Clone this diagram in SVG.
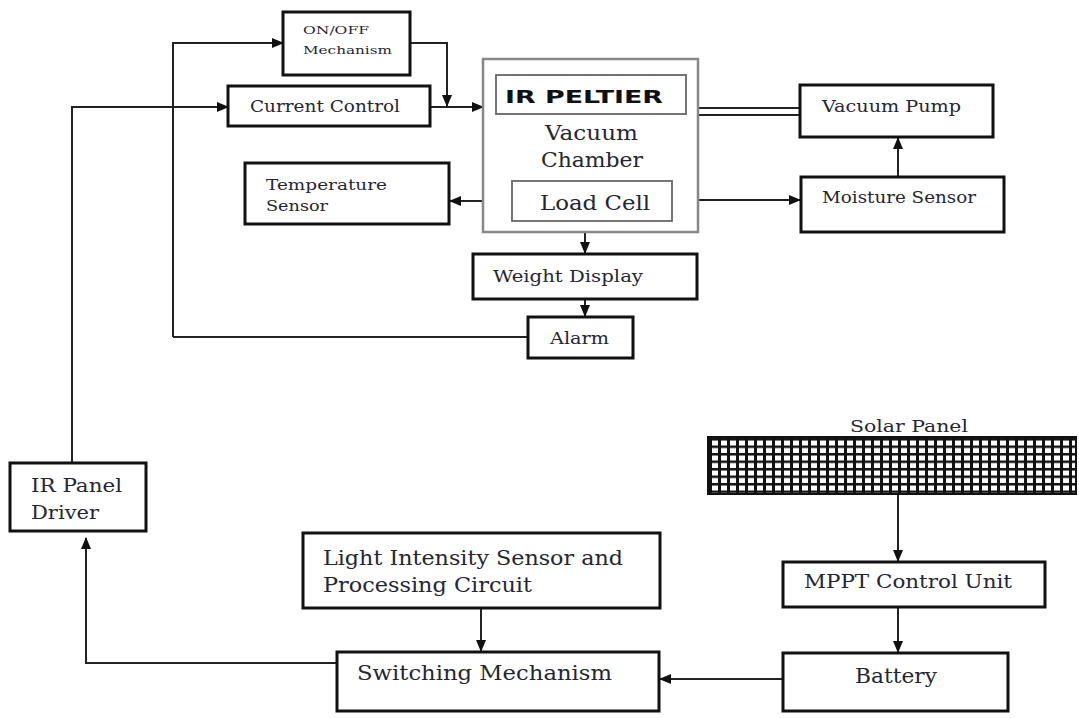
<svg xmlns="http://www.w3.org/2000/svg" width="1079" height="718" viewBox="0 0 1079 718">
<style>
.box{fill:#fff;stroke:#111;stroke-width:3}
.inner{fill:#fff;stroke:#666;stroke-width:1.8}
.t{font-family:"DejaVu Serif","Liberation Serif",serif;fill:#262633}
.b{font-family:"DejaVu Sans","Liberation Sans",sans-serif;font-weight:bold;fill:#111}
.ln{fill:none;stroke:#222;stroke-width:2}
.ar{fill:none;stroke:#222;stroke-width:2;marker-end:url(#ah)}
</style>
<defs>
<marker id="ah" markerUnits="userSpaceOnUse" markerWidth="12" markerHeight="10" refX="11" refY="5" orient="auto">
<path d="M0,0 L12,5 L0,10 Z" fill="#111"/>
</marker>
<pattern id="grid" patternUnits="userSpaceOnUse" x="710" y="439" width="9" height="7.5">
<rect width="9" height="7.5" fill="#111"/>
<rect x="2" y="1.5" width="6" height="5" fill="#fff"/>
</pattern>
</defs>

<g id="connectors">
<polyline class="ar" points="173,337 173,43 283,43"/>
<polyline class="ln" points="173,337 528,337"/>
<polyline class="ar" points="72,463 72,107 228,107"/>
<polyline class="ar" points="410,43 447,43 447,106"/>
<polyline class="ar" points="430,107 483,107"/>
<polyline class="ar" points="483,201 450,201"/>
<polyline class="ar" points="698,200 800,200"/>
<line class="ln" x1="698" y1="108" x2="800" y2="108" stroke-width="1.8"/>
<line class="ln" x1="698" y1="115" x2="800" y2="115" stroke-width="1.8"/>
<polyline class="ar" points="898,177 898,138"/>
<polyline class="ar" points="585,232 585,253"/>
<polyline class="ar" points="585,299 585,316"/>
<polyline class="ar" points="898,494 898,561"/>
<polyline class="ar" points="898,607 898,652"/>
<polyline class="ar" points="783,679 660,679"/>
<polyline class="ar" points="481,608 481,651"/>
<polyline class="ar" points="337,663 86,663 86,538"/>
</g>

<g id="onoff">
<rect class="box" x="283" y="12" width="127" height="63"/>
<text class="t" x="303" y="34" font-size="11.5" textLength="66" lengthAdjust="spacingAndGlyphs">ON/OFF</text>
<text class="t" x="303" y="54" font-size="11.5" textLength="89" lengthAdjust="spacingAndGlyphs">Mechanism</text>
</g>

<g id="current-control">
<rect class="box" x="228" y="86" width="202" height="40"/>
<text class="t" x="250" y="112" font-size="16" textLength="150" lengthAdjust="spacingAndGlyphs">Current Control</text>
</g>

<g id="vacuum-chamber">
<rect x="483" y="59" width="215" height="173" fill="#fff" stroke="#888" stroke-width="2.5"/>
<rect class="inner" x="496" y="75" width="190" height="39"/>
<text class="b" x="404" y="103" font-size="18" transform="scale(1.25,1)" textLength="126.4" lengthAdjust="spacingAndGlyphs">IR PELTIER</text>
<text class="t" x="545" y="140" font-size="21" textLength="93" lengthAdjust="spacingAndGlyphs">Vacuum</text>
<text class="t" x="541" y="167" font-size="21" textLength="102" lengthAdjust="spacingAndGlyphs">Chamber</text>
<rect class="inner" x="512" y="181" width="160" height="40"/>
<text class="t" x="540" y="210" font-size="21" textLength="110" lengthAdjust="spacingAndGlyphs">Load Cell</text>
</g>

<g id="vacuum-pump">
<rect class="box" x="800" y="85" width="193" height="52"/>
<text class="t" x="822" y="112" font-size="16" textLength="139" lengthAdjust="spacingAndGlyphs">Vacuum Pump</text>
</g>

<g id="moisture-sensor">
<rect class="box" x="801" y="177" width="203" height="55"/>
<text class="t" x="822" y="203" font-size="16" textLength="154" lengthAdjust="spacingAndGlyphs">Moisture Sensor</text>
</g>

<g id="temperature-sensor">
<rect class="box" x="245" y="163" width="204" height="61"/>
<text class="t" x="266" y="190" font-size="14.5" textLength="121" lengthAdjust="spacingAndGlyphs">Temperature</text>
<text class="t" x="266" y="211" font-size="14.5" textLength="62" lengthAdjust="spacingAndGlyphs">Sensor</text>
</g>

<g id="weight-display">
<rect class="box" x="473" y="254" width="224" height="45"/>
<text class="t" x="493" y="282" font-size="16" textLength="150" lengthAdjust="spacingAndGlyphs">Weight Display</text>
</g>

<g id="alarm">
<rect class="box" x="528" y="317" width="105" height="41"/>
<text class="t" x="550" y="344" font-size="16" textLength="59" lengthAdjust="spacingAndGlyphs">Alarm</text>
</g>

<g id="ir-panel-driver">
<rect class="box" x="10" y="463" width="136" height="68"/>
<text class="t" x="31" y="492" font-size="19" textLength="91" lengthAdjust="spacingAndGlyphs">IR Panel</text>
<text class="t" x="31" y="519" font-size="19" textLength="68" lengthAdjust="spacingAndGlyphs">Driver</text>
</g>

<g id="light-sensor">
<rect class="box" x="303" y="533" width="357" height="75"/>
<text class="t" x="323" y="565" font-size="21" textLength="300" lengthAdjust="spacingAndGlyphs">Light Intensity Sensor and</text>
<text class="t" x="323" y="592" font-size="21" textLength="209" lengthAdjust="spacingAndGlyphs">Processing Circuit</text>
</g>

<g id="switching-mechanism">
<rect class="box" x="337" y="652" width="322" height="59"/>
<text class="t" x="357" y="680" font-size="21" textLength="255" lengthAdjust="spacingAndGlyphs">Switching Mechanism</text>
</g>

<g id="solar-panel">
<text class="t" x="850" y="432" font-size="17" textLength="118" lengthAdjust="spacingAndGlyphs">Solar Panel</text>
<rect x="708" y="437" width="368" height="57" fill="url(#grid)" stroke="#111" stroke-width="2"/>
</g>

<g id="mppt">
<rect class="box" x="783" y="562" width="262" height="45"/>
<text class="t" x="804" y="588" font-size="18" textLength="208" lengthAdjust="spacingAndGlyphs">MPPT Control Unit</text>
</g>

<g id="battery">
<rect class="box" x="783" y="653" width="225" height="58"/>
<text class="t" x="855" y="683" font-size="21" textLength="82" lengthAdjust="spacingAndGlyphs">Battery</text>
</g>
</svg>
